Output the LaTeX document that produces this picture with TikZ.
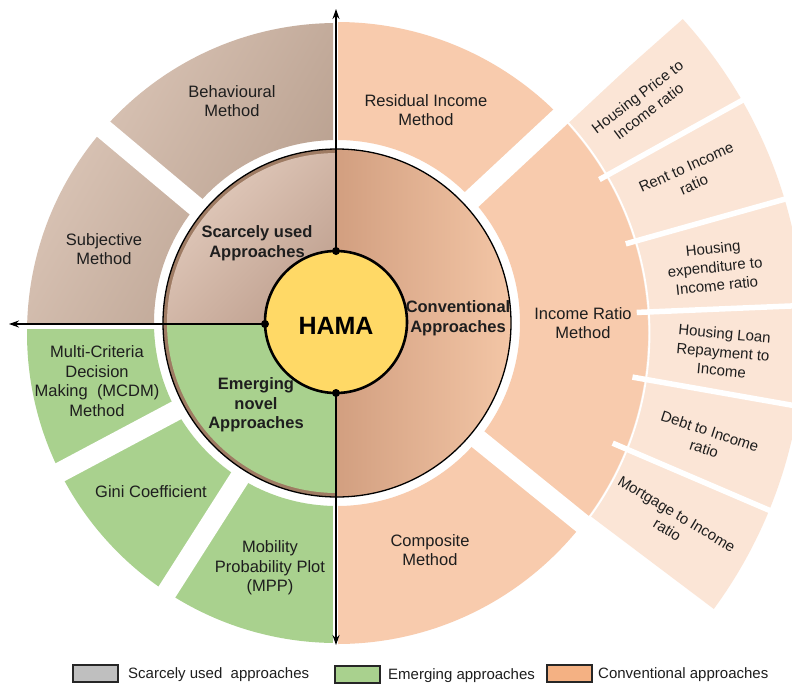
\documentclass[tikz,border=0pt]{standalone}
\usepackage{fontspec}
\setmainfont{Liberation Sans}
\usetikzlibrary{calc,arrows.meta}
\definecolor{peach}{HTML}{F8CBAD}
\definecolor{lightpeach}{HTML}{FBE5D6}
\definecolor{greenf}{HTML}{A9D18E}
\definecolor{hamay}{HTML}{FFD966}
\definecolor{legor}{HTML}{F4B183}
\definecolor{leggrey}{HTML}{BFBFBF}
\definecolor{brownL}{HTML}{DFCABC}
\definecolor{brownD}{HTML}{B79E8D}
\definecolor{convL}{HTML}{F5C8A8}
\definecolor{convD}{HTML}{D29F80}
\definecolor{scarL}{HTML}{E6D0C2}
\definecolor{scarD}{HTML}{C0A190}
\definecolor{shadowbr}{HTML}{9E7B63}
\definecolor{txt}{HTML}{1E1E1E}
\begin{document}
\begin{tikzpicture}[x=1pt,y=1pt,
  lbl/.style={align=center,text=txt,font=\fontsize{16.5}{19.5}\selectfont,inner sep=0pt},
  blbl/.style={align=center,text=txt,font=\fontsize{16.5}{19.5}\selectfont\bfseries,inner sep=0pt},
  slbl/.style={align=center,text=txt,font=\fontsize{15}{18.5}\selectfont,inner sep=0pt},
  gapline/.style={white,line width=20pt},
  sepline/.style={white,line width=5.5pt},
  axisline/.style={line width=1.1pt,-{Stealth[length=10pt,width=7pt]}},
  dotc/.style={circle,fill=black,inner sep=0pt,minimum size=8pt},
  hamac/.style={circle,fill=hamay,draw=black,line width=2.6pt,minimum size=142pt,inner sep=0pt},
  legbox/.style={draw=black!85,line width=1.2pt,minimum width=45pt,minimum height=17pt,inner sep=0pt},
  legtxt/.style={text=txt,font=\fontsize{15}{18}\selectfont,anchor=west,inner sep=0pt}
]
\clip (0,0) rectangle (792,-686);
\fill[white] (0,0) rectangle (792,-686);
\coordinate (O) at (337,-325);
\coordinate (O2) at (337,-333);
\coordinate (Oi) at (337,-323);

% light sub-sectors of income ratio
\begin{scope}
  \clip (O) -- ($(O)+(-37:700)$) -- ($(O)+(0:700)$) -- ($(O)+(41.5:700)$) -- cycle;
  \fill[lightpeach,even odd rule] (O2) circle[radius=467] (O2) circle[radius=300];
\end{scope}

% right half of outer ring (conventional methods)
\begin{scope}
  \clip (338,10) rectangle (800,-700);
  \fill[peach,even odd rule] (O2) circle[radius=311] (Oi) circle[radius=183];
\end{scope}
\draw[white,line width=1.8pt] ($(O2)+(-39:312.5)$) arc[start angle=-39,end angle=44,radius=312.5];
\foreach \a in {29,15.7,2.4,-10,-23.2}
  \draw[sepline] ($(O)+(\a:300)$) -- ($(O)+(\a:520)$);

% left half of outer ring
\begin{scope}[even odd rule]
  \clip (O2) circle[radius=310] (Oi) circle[radius=183];
  \shade[top color=brownL,bottom color=brownD,shading angle=60] (20,-15) rectangle (333,-323);
  \fill[greenf] (20,-329) rectangle (333,-660);
\end{scope}

% gaps between sectors
\foreach \a in {140,43,-39,208,237.5}
  \draw[gapline] ($(O)+(\a:176)$) -- ($(O)+(\a:480)$);

% inner ring
\begin{scope}
  \clip (0,0) rectangle (337,-700);
  \fill[shadowbr] (Oi) circle[radius=174];
\end{scope}
\begin{scope}
  \clip (Oi) circle[radius=170];
  \shade[top color=scarL,bottom color=scarD,shading angle=45] (160,-140) rectangle (336,-324);
  \fill[greenf] (160,-324) rectangle (336,-500);
\end{scope}
\begin{scope}
  \clip (Oi) circle[radius=174];
  \shade[left color=convD,right color=convL] (337,-140) rectangle (520,-510);
\end{scope}
\draw[line width=1.3pt] (Oi) circle[radius=174];

% centre
\node[hamac] (hama) at (336,-322) {};
\node[font=\fontsize{25}{30}\selectfont\bfseries,text=black,inner sep=0pt] (hamat) at (336,-326) {HAMA};

% axes
\node[dotc] (dt) at (336,-251) {};
\node[dotc] (dl) at (265,-324) {};
\node[dotc] (db) at (336,-393) {};
\coordinate (at) at (336,-9);
\coordinate (al) at (9,-324);
\coordinate (ab) at (336,-645);
\draw[axisline] (dt.center) -- (at);
\draw[axisline] (dl.center) -- (al);
\draw[axisline] (db.center) -- (ab);

% labels outer ring
\node[lbl] (beh) at (232,-101) {Behavioural\\Method};
\node[lbl] (subj) at (104,-249) {Subjective\\Method};
\node[lbl] (mcdm) at (97,-381) {Multi-Criteria\\Decision\\Making\ \ (MCDM)\\Method};
\node[lbl] (gini) at (151,-492) {Gini Coefficient};
\node[lbl] (mpp) at (270,-568) {Mobility\\Probability Plot\\(MPP)};
\node[lbl] (res) at (426,-110) {Residual Income\\Method};
\node[lbl] (irm) at (583,-323) {Income Ratio\\Method};
\node[lbl] (comp) at (430,-550) {Composite\\Method};

% labels inner ring
\node[blbl] (scar) at (257,-243) {Scarcely used\\Approaches};
\node[blbl] (conv) at (458,-318) {Conventional\\Approaches};
\node[blbl] (emer) at (256,-405) {Emerging\\novel\\Approaches};

% labels light sectors
\node[slbl,rotate=37] (hp) at (643,-104) {Housing Price to\\Income ratio};
\node[slbl,rotate=24] (rent) at (690,-176) {Rent to Income\\ratio};
\node[slbl,rotate=6] (hexp) at (715,-267) {Housing\\expenditure to\\Income ratio};
\node[slbl,rotate=-5] (hloan) at (723,-352) {Housing Loan\\Repayment to\\Income};
\node[slbl,rotate=-18] (debt) at (707,-440) {Debt to Income\\ratio};
\node[slbl,rotate=-31] (mort) at (672,-522) {Mortgage to Income\\ratio};

% legend
\node[legbox,fill=leggrey] (lg1) at (95.5,-673.5) {};
\node[legtxt] (lt1) at (128,-675) {Scarcely used\ \ approaches};
\node[legbox,fill=greenf] (lg2) at (357.5,-674.5) {};
\node[legtxt] (lt2) at (388,-676) {Emerging approaches};
\node[legbox,fill=legor] (lg3) at (569.5,-673.5) {};
\node[legtxt] (lt3) at (598,-675) {Conventional approaches};
\end{tikzpicture}
\end{document}
